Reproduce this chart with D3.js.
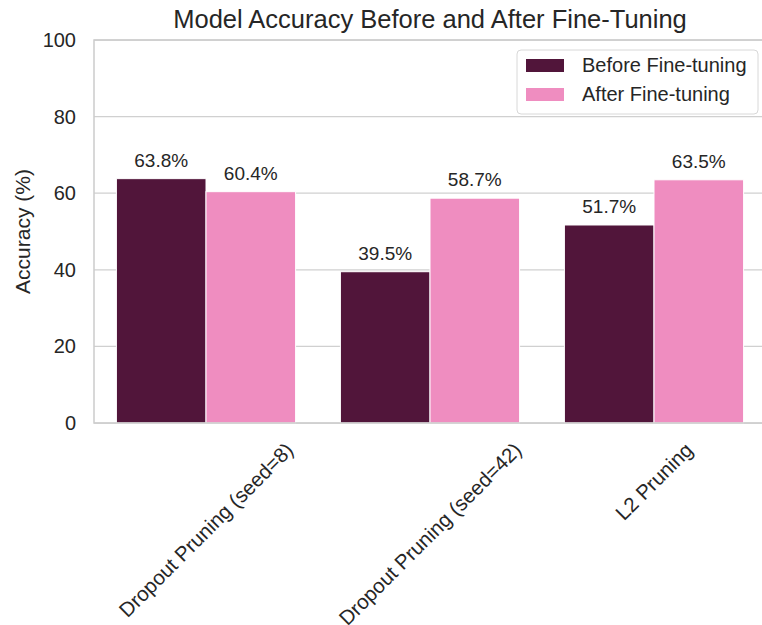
<!DOCTYPE html>
<html>
<head>
<meta charset="utf-8">
<script src="https://cdn.jsdelivr.net/npm/d3@7"></script>
<style>
  body { margin: 0; background: #fff; }
  svg text { font-family: "Liberation Sans", Arial, sans-serif; fill: #262626; }
</style>
</head>
<body>
<svg width="762" height="625"></svg>
<script>
var methods = ["Dropout Pruning (seed=8)", "Dropout Pruning (seed=42)", "L2 Pruning"];
var seriesNames = ["Before Fine-tuning", "After Fine-tuning"];
var beforeValues = [63.8, 39.5, 51.7];
var afterValues = [60.4, 58.7, 63.5];
var yTicks = [0, 20, 40, 60, 80, 100];
var colors = ["#51153a", "#ef8dc0"];

var svg = d3.select("svg"),
    margin = { top: 40, right: -4, bottom: 202, left: 94 },
    width = 762 - margin.left - margin.right,
    height = 625 - margin.top - margin.bottom;

var g = svg.append("g")
    .attr("transform", "translate(" + margin.left + "," + margin.top + ")");

var x = d3.scaleBand().domain(methods).range([0, width]).paddingInner(0).paddingOuter(0);
var xs = d3.scaleBand().domain(seriesNames).range([x.bandwidth() * 0.1, x.bandwidth() * 0.9]);
var y = d3.scaleLinear().domain([0, 100]).range([height, 0]);

// grid
g.append("g").selectAll("line").data(yTicks).enter().append("line")
    .attr("x1", 0).attr("x2", width)
    .attr("y1", function(d) { return y(d); })
    .attr("y2", function(d) { return y(d); })
    .attr("stroke", "#d0d0d0").attr("stroke-width", 1.25);

var rows = methods.map(function(m, i) {
    return { method: m, values: [beforeValues[i], afterValues[i]] };
});

var grp = g.append("g").selectAll("g").data(rows).enter().append("g")
    .attr("transform", function(d) { return "translate(" + x(d.method) + ",0)"; });

grp.selectAll("rect").data(function(d) {
        return d.values.map(function(v, j) { return { s: seriesNames[j], v: v, j: j }; });
    }).enter().append("rect")
    .attr("x", function(d) { return xs(d.s); })
    .attr("width", xs.bandwidth())
    .attr("y", function(d) { return y(d.v); })
    .attr("height", function(d) { return height - y(d.v); })
    .attr("fill", function(d) { return colors[d.j]; })
    .attr("stroke", "#fff").attr("stroke-width", 1);

grp.selectAll("text.val").data(function(d) {
        return d.values.map(function(v, j) { return { s: seriesNames[j], v: v }; });
    }).enter().append("text")
    .attr("class", "val")
    .attr("x", function(d) { return xs(d.s) + xs.bandwidth() / 2; })
    .attr("y", function(d) { return y(d.v) - 12; })
    .attr("text-anchor", "middle")
    .style("font-size", "19px")
    .text(function(d) { return d.v.toFixed(1) + "%"; });

// spines
g.append("rect").attr("x", 0).attr("y", 0).attr("width", width).attr("height", height)
    .attr("fill", "none").attr("stroke", "#cccccc").attr("stroke-width", 1.5);

// y axis labels
g.append("g").selectAll("text").data(yTicks).enter().append("text")
    .attr("x", -18).attr("y", function(d) { return y(d); })
    .attr("dy", "0.35em").attr("text-anchor", "end")
    .style("font-size", "20px")
    .text(function(d) { return d; });

g.append("text")
    .attr("transform", "translate(" + (-64) + "," + (height / 2) + ") rotate(-90)")
    .attr("text-anchor", "middle")
    .style("font-size", "21px")
    .text("Accuracy (%)");

// x labels rotated 45, centered on tick
g.append("g").selectAll("text").data(methods).enter().append("text")
    .attr("text-anchor", "middle")
    .attr("dy", "0.35em")
    .style("font-size", "20.5px")
    .text(function(d) { return d; })
    .each(function(d) {
        var L = this.getComputedTextLength();
        var h = 20.5;
        var half = (L + h) * Math.SQRT1_2 / 2;
        var cx = x(d) + x.bandwidth() / 2;
        var cy = height + 16 + half;
        d3.select(this).attr("transform", "translate(" + cx + "," + cy + ") rotate(-45)");
    });

// title
svg.append("text")
    .attr("x", 430).attr("y", 28)
    .attr("text-anchor", "middle")
    .style("font-size", "25.5px")
    .text("Model Accuracy Before and After Fine-Tuning");

// legend
var lg = svg.append("g").attr("transform", "translate(517,50)");
lg.append("rect").attr("width", 241).attr("height", 64).attr("rx", 4)
    .attr("fill", "#fff").attr("fill-opacity", 0.85)
    .attr("stroke", "#d8d8d8").attr("stroke-width", 1);
seriesNames.forEach(function(s, i) {
    lg.append("rect").attr("x", 9).attr("y", 9 + i * 29).attr("width", 38).attr("height", 13)
        .attr("fill", colors[i]);
    lg.append("text").attr("x", 65).attr("y", 15 + i * 29).attr("dy", "0.35em")
        .style("font-size", "20px").text(s);
});
</script>
</body>
</html>
